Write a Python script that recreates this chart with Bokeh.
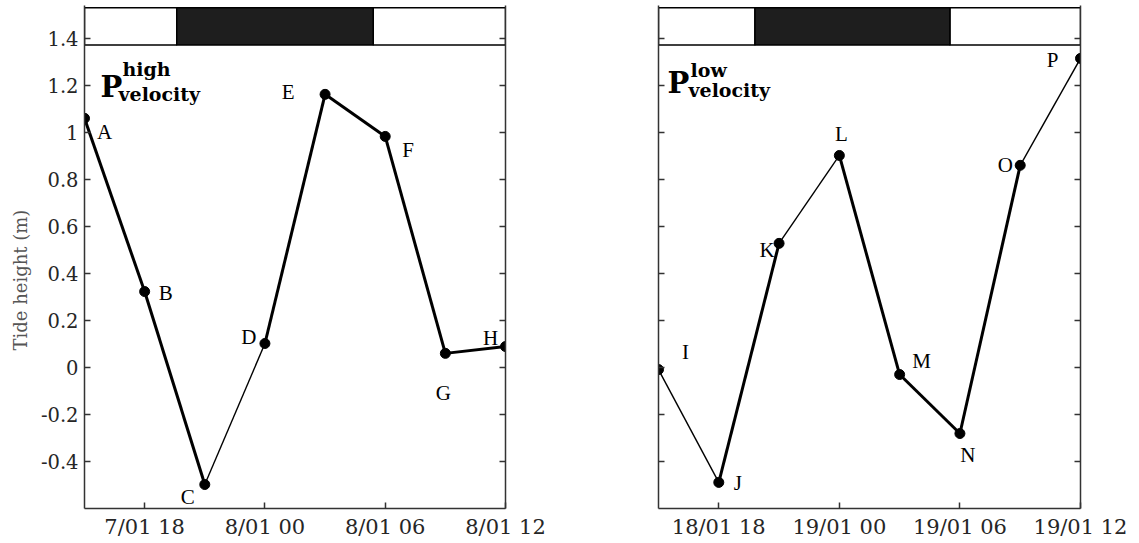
from bokeh.plotting import figure
from bokeh.layouts import row
from bokeh.models import (FixedTicker, Label, ColumnDataSource, Range1d,
                          CustomJSTickFormatter, LinearAxis, Title)
from bokeh.core.properties import value
from bokeh.embed import file_html
from bokeh.resources import INLINE

# ---------------- data ----------------
# time in hours counted from 00:00 of the first day shown in each panel
hours = [15, 18, 21, 24, 27, 30, 33, 36]

high_names = ["A", "B", "C", "D", "E", "F", "G", "H"]
high_height = [1.06, 0.323, -0.498, 0.102, 1.162, 0.983, 0.06, 0.089]
high_thick = [True, True, False, True, True, True, True]      # per segment
high_night = [19.6, 29.4]                                      # dark period (hours)

low_names = ["I", "J", "K", "L", "M", "N", "O", "P"]
low_height = [-0.009, -0.489, 0.528, 0.902, -0.03, -0.281, 0.86, 1.315]
low_thick = [False, True, False, True, True, True, False]
low_night = [19.8, 29.5]

x_ticks = [18, 24, 30, 36]
high_x_labels = ["7/01 18", "8/01 00", "8/01 06", "8/01 12"]
low_x_labels = ["18/01 18", "19/01 00", "19/01 06", "19/01 12"]
y_ticks = [-0.4, -0.2, 0.0, 0.2, 0.4, 0.6, 0.8, 1.0, 1.2, 1.4]
y_labels = ["-0.4", "-0.2", "0", "0.2", "0.4", "0.6", "0.8", "1", "1.2", "1.4"]
y_title = "Tide height (m)"

# label placement (pixels, relative to the point; y downwards)
high_dx = [20, 21, -17, -16, -37, 23, -2, -15]
high_dy = [14, 1, 12, -6, -2, 14, 40, -9]
low_dx = [27, 19, -12, 2, 22, 8, -15, -28]
low_dy = [-18, 1, 7, -21, -14, 21, 0, 2]

X_START, X_END = 15, 36
Y_START, Y_END = -0.6, 1.54
BAR_BOTTOM, BAR_TOP = 1.372, 1.53

SERIF = "DejaVu Serif"
LETTER = "Liberation Serif"
AX_COL = "#333333"
TICK_COL = "#262626"


def make_panel(names, height, thick, night, x_labels, dx, dy, width, bl, br,
               sup, show_y, title_pos):
    p = figure(width=width, height=543, output_backend="svg", toolbar_location=None,
               x_range=Range1d(X_START, X_END), y_range=Range1d(Y_START, Y_END),
               min_border_left=bl, min_border_right=br, min_border_top=5,
               min_border_bottom=35, x_axis_location="below", y_axis_location="left")
    p.outline_line_color = None
    p.grid.visible = False
    p.background_fill_color = "white"
    p.border_fill_color = "white"

    # mirrored axis on the right
    p.add_layout(LinearAxis(), "right")

    for ax in p.yaxis:
        ax.ticker = FixedTicker(ticks=y_ticks)
        ax.major_label_overrides = {t: s for t, s in zip(y_ticks, y_labels)}
        ax.minor_tick_line_color = None
        ax.major_tick_in = 6
        ax.major_tick_out = 0
        ax.axis_line_color = AX_COL
        ax.axis_line_width = 1.5
        ax.major_tick_line_color = AX_COL
        ax.major_tick_line_width = 1.5
        ax.major_label_text_font = SERIF
        ax.major_label_text_font_size = "19.5px"
        ax.major_label_text_color = TICK_COL
        ax.major_label_standoff = 6
    p.yaxis[1].formatter = CustomJSTickFormatter(code="return ''")
    p.yaxis[1].major_label_overrides = {}
    if not show_y:
        p.yaxis[0].formatter = CustomJSTickFormatter(code="return ''")
        p.yaxis[0].major_label_overrides = {}

    xa = p.xaxis[0]
    xa.ticker = FixedTicker(ticks=x_ticks)
    xa.major_label_overrides = {t: s for t, s in zip(x_ticks, x_labels)}
    xa.minor_tick_line_color = None
    xa.major_tick_in = 6
    xa.major_tick_out = 0
    xa.axis_line_color = AX_COL
    xa.axis_line_width = 1.5
    xa.major_tick_line_color = AX_COL
    xa.major_tick_line_width = 1.5
    xa.major_label_text_font = SERIF
    xa.major_label_text_font_size = "21px"
    xa.major_label_text_color = TICK_COL
    xa.major_label_standoff = 6

    # day / night bar
    p.quad(left=[X_START, night[1]], right=[night[0], X_END],
           bottom=[BAR_BOTTOM] * 2, top=[BAR_TOP] * 2,
           fill_color="white", line_color="black", line_width=1.5)
    p.quad(left=[night[0]], right=[night[1]], bottom=[BAR_BOTTOM], top=[BAR_TOP],
           fill_color="#1e1e1e", line_color="black", line_width=1.5)

    seg = ColumnDataSource(dict(
        x0=hours[:-1], y0=height[:-1], x1=hours[1:], y1=height[1:],
        lw=[3.0 if t else 1.4 for t in thick]))
    p.segment(x0="x0", y0="y0", x1="x1", y1="y1", line_width="lw",
              line_color="black", source=seg)

    pts = ColumnDataSource(dict(x=hours, y=height, name=names, dx=dx, dy=dy))
    p.scatter(x="x", y="y", size=10, marker="circle", fill_color="black",
              line_color="black", source=pts)
    p.text(x="x", y="y", text="name", x_offset="dx", y_offset="dy", source=pts,
           text_font=value(LETTER), text_font_size="21px", text_color="black",
           text_align="center", text_baseline="middle")

    # panel title  P^sup_velocity
    (px, py), (sx, sy), (vx, vy) = title_pos
    p.add_layout(Label(x=px, y=py, x_units="screen", y_units="screen", text="P",
                       text_font=SERIF, text_font_style="bold", text_font_size="29px",
                       text_baseline="alphabetic", text_color="black"))
    p.add_layout(Label(x=sx, y=sy, x_units="screen", y_units="screen", text=sup,
                       text_font=SERIF, text_font_style="bold", text_font_size="19px",
                       text_baseline="alphabetic", text_color="black"))
    p.add_layout(Label(x=vx, y=vy, x_units="screen", y_units="screen", text="velocity",
                       text_font=SERIF, text_font_style="bold", text_font_size="19px",
                       text_baseline="alphabetic", text_color="black"))
    return p


left = make_panel(high_names, high_height, high_thick, high_night, high_x_labels,
                  high_dx, high_dy, 560, 84, 55, "high", True,
                  ((16, 422), (38, 440), (34, 415)))
left.add_layout(Title(text=y_title, align="left", offset=158, standoff=14,
                      text_font=SERIF, text_font_size="18px",
                      text_font_style="normal", text_color="#555555"), "left")

right = make_panel(low_names, low_height, low_thick, low_night, low_x_labels,
                   low_dx, low_dy, 579, 98, 59, "low", False,
                   ((9, 426), (32, 439), (30, 419)))

layout = row(left, right)
open("out.html", "w").write(file_html(layout, INLINE))
